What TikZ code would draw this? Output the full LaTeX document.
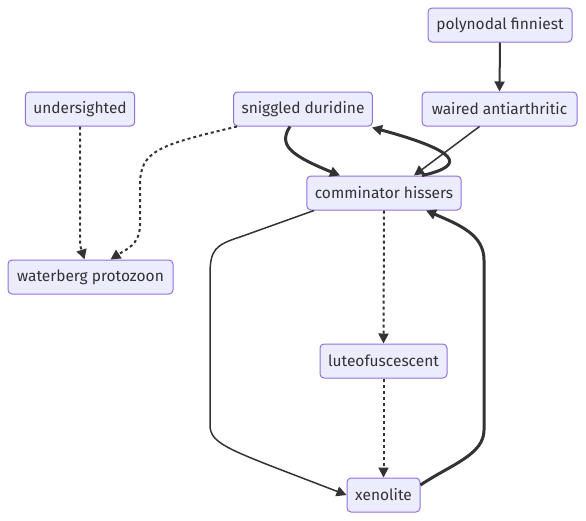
\documentclass[tikz,border=0pt]{standalone}
\usepackage{fontspec}
\setmainfont{Fira Sans}
\usetikzlibrary{arrows.meta}
\definecolor{nodefill}{HTML}{ECECFF}
\definecolor{nodeline}{HTML}{9370DB}
\definecolor{edge}{HTML}{333333}
\begin{document}
\begin{tikzpicture}[x=1pt,y=-1pt,
  box/.style={draw=nodeline,fill=nodefill,line width=1pt,rounded corners=4pt,minimum height=34pt,inner xsep=8pt,font=\fontsize{15.5}{18}\selectfont,text=edge},
  thin/.style={draw=edge,line width=1.5pt,-{Triangle[length=10pt,width=10pt]}},
  thick/.style={draw=edge,line width=3pt,-{Triangle[length=10pt,width=10pt]}},
  dots/.style={draw=edge,line width=2pt,dash pattern=on 3pt off 3pt,-{Triangle[length=10pt,width=10pt]}}]
\useasboundingbox (0,0) rectangle (586,520);
\node[box,minimum width=144pt] (pf) at (500,25) {polynodal finniest};
\node[box,minimum width=109pt] (us) at (80,109) {undersighted};
\node[box,minimum width=138pt] (sd) at (303,109) {sniggled duridine};
\node[box,minimum width=155pt] (wa) at (499.5,109) {waired antiarthritic};
\node[box,minimum width=154pt] (ch) at (384,193) {comminator hissers};
\node[box,minimum width=165pt] (wp) at (90.5,277) {waterberg protozoon};
\node[box,minimum width=127pt] (lu) at (383.5,361) {luteofuscescent};
\node[box,minimum width=73pt] (xe) at (383.5,495) {xenolite};
\draw[thin,line width=2pt] (pf.south) -- (wa.north);
\draw[dots] (us.south) -- (80,245) -- ([xshift=-6pt]wp.north);
\draw[dots] ([xshift=-66pt]sd.south) .. controls (160,145) and (140,150) .. (140,185) -- (140,225) .. controls (140,245) and (125,250) .. ([xshift=20pt]wp.north);
\draw[thick] ([xshift=-13pt]sd.south) .. controls (278,145) and (290,155) .. ([xshift=-44pt]ch.north);
\draw[thick] ([xshift=38pt]ch.north) .. controls (470,165) and (455,150) .. ([xshift=69pt,yshift=-1pt]sd.south);
\draw[thin] ([xshift=-20pt]wa.south) -- ([xshift=30pt]ch.north);
\draw[thin] ([xshift=-70pt]ch.south) -- (240,237) .. controls (215,245) and (210,250) .. (210,275) -- (210,425) .. controls (210,445) and (230,450) .. (xe.west);
\draw[dots] (ch.south) -- (lu.north);
\draw[dots] (lu.south) -- (xe.north);
\draw[thick] (xe.east) ++(0,-10) .. controls (450,465) and (484,455) .. (484,430) -- (484,260) .. controls (484,235) and (460,225) .. ([xshift=42pt]ch.south);
\end{tikzpicture}
\end{document}
